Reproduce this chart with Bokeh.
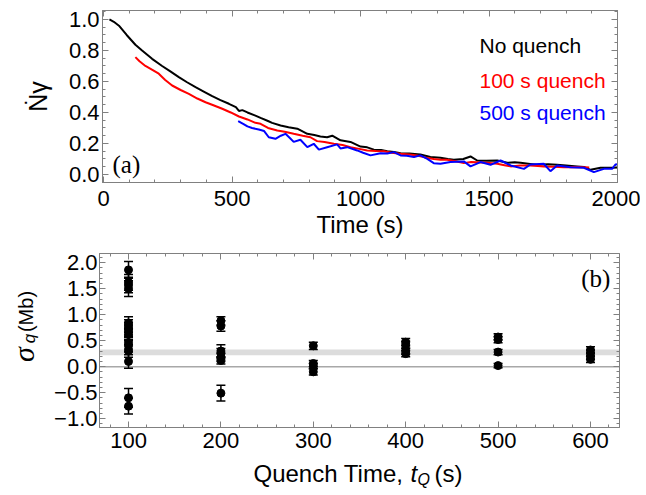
import math
from bokeh.plotting import figure
from bokeh.layouts import column, row
from bokeh.models import (Label, LinearAxis, FixedTicker, Whisker, TeeHead, ColumnDataSource,
                          BoxAnnotation, Span, Range1d, PrintfTickFormatter, CustomJSTickFormatter)
from bokeh.core.properties import value
from bokeh.embed import file_html
from bokeh.resources import INLINE

# ---------------- data: panel (a) ----------------
t_none = [23, 40, 60, 90, 124, 150, 189, 228, 260, 293, 325, 358, 390, 423, 455, 488, 515, 527, 540, 560,
          591, 611, 640, 656, 689, 720, 754, 793, 820, 844, 870, 890, 922, 961, 1000, 1026, 1052, 1080,
          1104, 1130, 1156, 1190, 1233, 1272, 1311, 1340, 1363, 1400, 1428, 1454, 1490, 1532, 1571, 1600,
          1623, 1660, 1688, 1730, 1765, 1800, 1843, 1870, 1895, 1934, 1979, 2000]
n_none = [1.00, 0.985, 0.96, 0.90, 0.837, 0.80, 0.746, 0.70, 0.665, 0.628, 0.595, 0.563, 0.535, 0.505,
          0.48, 0.456, 0.435, 0.41, 0.415, 0.40, 0.38, 0.365, 0.345, 0.333, 0.316, 0.305, 0.295, 0.262,
          0.255, 0.245, 0.24, 0.25, 0.22, 0.21, 0.18, 0.175, 0.16, 0.158, 0.15, 0.145, 0.137, 0.135, 0.129,
          0.113, 0.107, 0.10, 0.095, 0.10, 0.116, 0.09, 0.088, 0.09, 0.075, 0.078, 0.075, 0.068, 0.062,
          0.065, 0.062, 0.058, 0.052, 0.048, 0.03, 0.043, 0.043, 0.045]

t_100 = [124, 140, 163, 190, 215, 240, 267, 300, 332, 365, 397, 430, 462, 495, 527, 560, 591, 611, 640,
         676, 705, 740, 775, 805, 831, 860, 896, 930, 961, 995, 1026, 1060, 1091, 1120, 1156, 1190, 1220,
         1250, 1285, 1311, 1337, 1370, 1402, 1430, 1454, 1490, 1532, 1560, 1584, 1620, 1661, 1690, 1713,
         1750, 1791, 1830, 1869, 1890]
n_100 = [0.757, 0.73, 0.70, 0.675, 0.65, 0.61, 0.574, 0.545, 0.52, 0.49, 0.466, 0.445, 0.424, 0.40, 0.374,
         0.355, 0.333, 0.327, 0.30, 0.284, 0.275, 0.262, 0.25, 0.24, 0.215, 0.21, 0.198, 0.19, 0.176,
         0.165, 0.155, 0.152, 0.15, 0.14, 0.133, 0.128, 0.122, 0.11, 0.10, 0.095, 0.095, 0.085, 0.073,
         0.08, 0.078, 0.075, 0.069, 0.06, 0.052, 0.058, 0.058, 0.055, 0.052, 0.05, 0.047, 0.048, 0.047, 0.045]

t_500 = [524, 545, 560, 578, 604, 625, 643, 669, 690, 708, 725, 740, 766, 793, 818, 838, 870, 909, 922,
         948, 987, 1010, 1039, 1078, 1104, 1130, 1156, 1180, 1208, 1233, 1260, 1285, 1311, 1350, 1402,
         1428, 1467, 1506, 1545, 1584, 1636, 1661, 1713, 1739, 1765, 1817, 1869, 1908, 1947, 1979, 1992, 2012]
n_500 = [0.344, 0.325, 0.31, 0.30, 0.29, 0.28, 0.24, 0.23, 0.25, 0.262, 0.235, 0.21, 0.224, 0.176, 0.198,
         0.16, 0.176, 0.194, 0.168, 0.176, 0.155, 0.14, 0.123, 0.137, 0.135, 0.144, 0.123, 0.12, 0.112,
         0.123, 0.10, 0.073, 0.069, 0.080, 0.084, 0.052, 0.080, 0.062, 0.090, 0.058, 0.036, 0.064, 0.069,
         0.021, 0.058, 0.047, 0.043, 0.015, 0.036, 0.036, 0.064, 0.069]

series_labels = ["No quench", "100 s quench", "500 s quench"]
series_colors = ["#000000", "#ff0000", "#0000ff"]

xa_ticks = [0, 500, 1000, 1500, 2000]
xa_minor = list(range(0, 2001, 100))
ya_ticks = [0.0, 0.2, 0.4, 0.6, 0.8, 1.0]
ya_minor = [round(-0.05 + 0.05 * i, 2) for i in range(23)]

# ---------------- data: panel (b) ----------------
tq = [100] * 15 + [200] * 7 + [300] * 4 + [400] * 4 + [500] * 4 + [600] * 4
sigma = [1.86, 1.62, 1.57, 1.50, 0.84, 0.78, 0.73, 0.68, 0.62, 0.46, 0.40, 0.30, 0.10, -0.60, -0.76,
         0.88, 0.78, 0.30, 0.25, 0.18, 0.12, -0.51,
         0.40, 0.06, 0.01, -0.10,
         0.47, 0.42, 0.30, 0.25,
         0.57, 0.52, 0.28, 0.02,
         0.32, 0.26, 0.20, 0.14]
sigma_err = [0.16, 0.15, 0.15, 0.15, 0.12, 0.12, 0.12, 0.12, 0.12, 0.12, 0.12, 0.12, 0.13, 0.18, 0.15,
             0.08, 0.10, 0.12, 0.10, 0.08, 0.07, 0.15,
             0.07, 0.06, 0.05, 0.06,
             0.07, 0.07, 0.06, 0.06,
             0.06, 0.06, 0.05, 0.04,
             0.06, 0.06, 0.06, 0.06]
band_low, band_high = 0.22, 0.33

xb_ticks = [100, 200, 300, 400, 500, 600]
xb_minor = list(range(80, 631, 20))
yb_ticks = [-1.0, -0.5, 0.0, 0.5, 1.0, 1.5, 2.0]
yb_minor = [round(-1.1 + 0.1 * i, 1) for i in range(33)]
yb_labels = {-1.0: "\u22121.0", -0.5: "\u22120.5"}

FONT = "Liberation Sans"
SERIF = "Liberation Serif"
FRAME = "#808080"
TICKFS = "22px"


def build_axes(p, xt, xm, yt, ym):
    bottom = p.below[0]
    left = p.left[0]
    bottom.ticker = FixedTicker(ticks=xt, minor_ticks=xm)
    left.ticker = FixedTicker(ticks=yt, minor_ticks=ym)
    left.formatter = PrintfTickFormatter(format="%.1f")
    blank = CustomJSTickFormatter(code="return ''")
    top = LinearAxis(ticker=FixedTicker(ticks=xt, minor_ticks=xm), formatter=blank)
    right = LinearAxis(ticker=FixedTicker(ticks=yt, minor_ticks=ym), formatter=blank)
    p.add_layout(top, "above")
    p.add_layout(right, "right")
    for ax in [top, right]:
        ax.major_label_standoff = 0
    for ax in [bottom, left, top, right]:
        ax.axis_line_color = FRAME
        ax.major_tick_line_color = FRAME
        ax.minor_tick_line_color = FRAME
        ax.major_tick_in = 6
        ax.major_tick_out = 0
        ax.minor_tick_in = 3
        ax.minor_tick_out = 0
        ax.major_label_text_font = FONT
        ax.major_label_text_color = "#000000"
        ax.major_label_text_font_size = TICKFS
        ax.axis_label_text_font = FONT
        ax.axis_label_text_font_style = "normal"
        ax.axis_label_text_color = "#000000"
    p.xgrid.visible = False
    p.ygrid.visible = False
    p.outline_line_color = FRAME
    return bottom, left


def strip(w, h, xr, yr, bl=0, br=0, bt=0, bb=0):
    s = figure(width=w, height=h, output_backend="svg", toolbar_location=None,
               x_range=Range1d(*xr), y_range=Range1d(*yr),
               x_axis_location=None, y_axis_location=None,
               min_border_left=bl, min_border_right=br, min_border_top=bt, min_border_bottom=bb)
    s.grid.visible = False
    s.outline_line_color = None
    return s


# ---------------- panel (a) ----------------
p1 = figure(width=640, height=248, output_backend="svg", toolbar_location=None,
            x_range=Range1d(-4, 2000), y_range=Range1d(-0.052, 1.058),
            min_border_left=102, min_border_right=23, min_border_top=10, min_border_bottom=66)
b1, l1 = build_axes(p1, xa_ticks, xa_minor, ya_ticks, ya_minor)
b1.major_label_standoff = 8
l1.major_label_standoff = 3
b1.axis_label = "Time (s)"
b1.axis_label_text_font_size = "24px"
b1.axis_label_standoff = 2
l1.axis_label = "\u1e44\u03b3"
l1.axis_label_text_font_size = "25px"
l1.axis_label_standoff = 14

for tt, nn, col in zip([t_none, t_100, t_500], [n_none, n_100, n_500], series_colors):
    p1.line(tt, nn, line_color=col, line_width=2)

leg_v = [0.832, 0.606, 0.40]
for lab_txt, col, vv in zip(series_labels, series_colors, leg_v):
    p1.add_layout(Label(x=1463, y=vv, text=lab_txt, text_color=col, text_font=FONT,
                        text_font_size="21px", text_baseline="middle", text_align="left"))

p1.add_layout(Label(x=35, y=0.065, text="(a)", text_font=SERIF, text_font_size="25px",
                    text_color="#000000", text_baseline="middle", text_align="left"))

# ---------------- panel (b) ----------------
LABW = 50
P2H = 209
p2 = figure(width=640 - LABW, height=P2H, output_backend="svg", toolbar_location=None,
            x_range=Range1d(68.6, 631.4), y_range=Range1d(-1.17, 2.175),
            min_border_left=99 - LABW, min_border_right=21, min_border_top=5, min_border_bottom=30)
b2, l2 = build_axes(p2, xb_ticks, xb_minor, yb_ticks, yb_minor)
l2.major_label_overrides = yb_labels
b2.major_label_standoff = 5
l2.major_label_standoff = 2

p2.add_layout(BoxAnnotation(bottom=band_low, top=band_high, fill_color="#dcdcdc", fill_alpha=1.0,
                            line_color=None, level="underlay"))
p2.add_layout(Span(location=0, dimension="width", line_color="#a8a8a8", line_width=1.5, level="underlay"))

src = ColumnDataSource(dict(x=tq, y=sigma,
                            lo=[s - e for s, e in zip(sigma, sigma_err)],
                            hi=[s + e for s, e in zip(sigma, sigma_err)]))
p2.add_layout(Whisker(source=src, base="x", lower="lo", upper="hi", dimension="height",
                      line_color="#000000", line_width=1.5,
                      upper_head=TeeHead(size=9, line_color="#000000", line_width=1.5),
                      lower_head=TeeHead(size=9, line_color="#000000", line_width=1.5)))
p2.scatter("x", "y", source=src, size=8, color="#000000")

p2.add_layout(Label(x=621.6, y=1.69, text="(b)", text_font=SERIF, text_font_size="25px",
                    text_color="#000000", text_baseline="middle", text_align="right"))

# y-axis title of panel (b): strip to the left, frame aligned with panel (b); y in page pixels
lab = strip(LABW, P2H, (0, LABW), (427, 253), bt=5, bb=30)
lab.text(x=[23], y=[354], text=["\u03c3"], angle=math.pi / 2, text_font=value(SERIF),
         text_font_style="italic", text_font_size="30px", text_color="#000000",
         text_align="center", text_baseline="middle")
lab.text(x=[29], y=[338], text=["q"], angle=math.pi / 2, text_font=value(FONT),
         text_font_style="italic", text_font_size="17px", text_color="#000000",
         text_align="center", text_baseline="middle")
lab.text(x=[25], y=[311], text=["(Mb)"], angle=math.pi / 2, text_font=value(FONT),
         text_font_size="20px", text_color="#000000",
         text_align="center", text_baseline="middle")

# x-axis title of panel (b): strip below, frame aligned with panel (a); x in page pixels
BOTH = 33
bot = strip(640, BOTH, (102, 617), (0, BOTH), bl=102, br=23)
bot.text(x=[253], y=[17], text=["Quench Time, "], text_font=value(FONT), text_font_size="24px",
         text_color="#000000", text_align="left", text_baseline="middle")
bot.text(x=[410], y=[17], text=["t"], text_font=value(FONT), text_font_style="italic",
         text_font_size="24px", text_color="#000000", text_align="left", text_baseline="middle")
bot.text(x=[417], y=[11], text=["Q"], text_font=value(FONT), text_font_style="italic",
         text_font_size="16px", text_color="#000000", text_align="left", text_baseline="middle")
bot.text(x=[434], y=[17], text=["(s)"], text_font=value(FONT), text_font_size="24px",
         text_color="#000000", text_align="left", text_baseline="middle")

layout = column(p1, row(lab, p2, spacing=0), bot, spacing=0)
open("out.html", "w").write(file_html(layout, INLINE))
